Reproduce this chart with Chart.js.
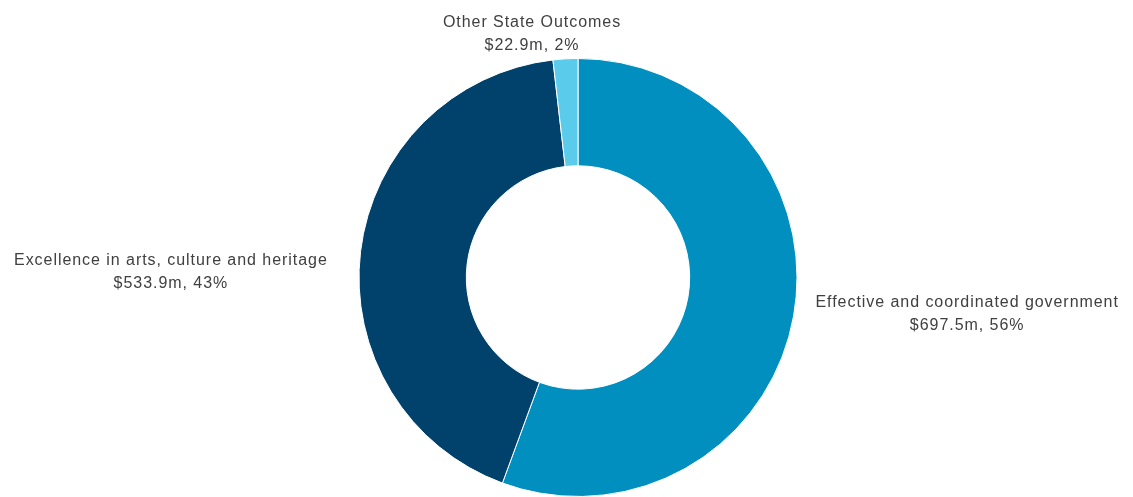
<!DOCTYPE html>
<html>
<head>
<meta charset="utf-8">
<script src="https://cdn.jsdelivr.net/npm/chart.js@4/dist/chart.umd.min.js"></script>
<style>
  html, body { margin: 0; padding: 0; background: #ffffff; }
  #wrap { width: 1133px; height: 497px; position: relative; }
</style>
</head>
<body>
<div id="wrap"><canvas id="outcomeChart"></canvas></div>
<script>
// spending by state outcome, $m
const outcomes = ['Effective and coordinated government', 'Excellence in arts, culture and heritage', 'Other State Outcomes'];
const amounts = [697.5, 533.9, 22.9];
const shares = [56, 43, 2];
const colours = ['#008fbe', '#00426c', '#5bcbeb'];

// first-line baseline of each label block, relative to the ring centre (in outer radii)
const labelAnchor = [
    { dx: 1.777, dy: 0.133 },
    { dx: -1.859, dy: -0.057 },
    { dx: -0.21, dy: -1.143 }
];

const sliceLabels = {
    id: 'sliceLabels',
    afterDatasetsDraw(chart) {
        const ctx = chart.ctx;
        const arcs = chart.getDatasetMeta(0).data;
        ctx.save();
        ctx.font = '16px "Liberation Sans", Arial, sans-serif';
        ctx.letterSpacing = '0.95px';
        ctx.fillStyle = '#404040';
        ctx.textAlign = 'center';
        ctx.textBaseline = 'alphabetic';
        arcs.forEach((arc, i) => {
            const r = arc.outerRadius;
            const x = arc.x + labelAnchor[i].dx * r;
            const y = arc.y + labelAnchor[i].dy * r;
            ctx.fillText(outcomes[i], x, y);
            ctx.fillText('$' + amounts[i].toFixed(1) + 'm, ' + shares[i] + '%', x, y + 23.3);
        });
        ctx.restore();
    }
};

new Chart(document.getElementById('outcomeChart'), {
    type: 'doughnut',
    data: {
        labels: outcomes,
        datasets: [{
            data: amounts,
            backgroundColor: colours,
            borderColor: '#ffffff',
            borderWidth: 1
        }]
    },
    options: {
        responsive: true,
        maintainAspectRatio: false,
        animation: false,
        cutout: '51%',
        layout: { padding: { top: 58, bottom: -1, left: 23, right: 0 } },
        plugins: {
            legend: { display: false },
            tooltip: { enabled: false }
        }
    },
    plugins: [sliceLabels]
});
</script>
</body>
</html>
